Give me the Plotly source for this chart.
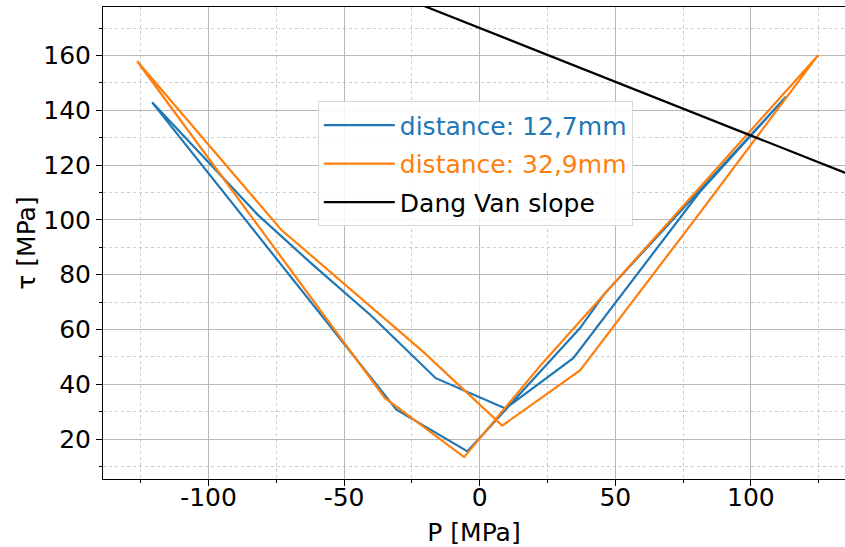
import plotly.graph_objects as go

# Data
blue_P = [-120.8, -100.0, -82.0, -62.0, -40.0, -16.2, 9.5, 34.5, 81.0, 112.9,
          46.0, 37.0, -4.5, -30.7, -120.8]
blue_tau = [142.9, 121.0, 102.0, 84.0, 65.0, 42.2, 31.1, 49.5, 110.0, 144.9,
            73.0, 60.5, 15.5, 30.7, 142.9]

orange_P = [-126.3, -73.1, -21.0, 8.3, 37.0, 80.0, 124.8,
            50.0, 23.0, -5.75, -35.0, -126.3]
orange_tau = [157.9, 96.3, 52.0, 24.9, 45.0, 101.0, 160.1,
              77.5, 47.5, 13.4, 35.0, 157.9]

dv_P = [-30.0, 140.0]
dv_tau = [181.8, 115.1]

x_tickvals = [-100, -50, 0, 50, 100]
x_ticktext = ["-100", "-50", "0", "50", "100"]
y_tickvals = [20, 40, 60, 80, 100, 120, 140, 160]
y_ticktext = ["20", "40", "60", "80", "100", "120", "140", "160"]

BLUE = "#1f77b4"
ORANGE = "#ff7f0e"

fig = go.Figure()
fig.add_trace(go.Scatter(x=blue_P, y=blue_tau, mode="lines",
                         line=dict(color=BLUE, width=2.2), legendgroup="a",
                         name=f"<span style='color:{BLUE}'>distance: 12,7mm</span>"))
fig.add_trace(go.Scatter(x=orange_P, y=orange_tau, mode="lines",
                         line=dict(color=ORANGE, width=2.2), legendgroup="b",
                         name=f"<span style='color:{ORANGE}'>distance: 32,9mm</span>"))
fig.add_trace(go.Scatter(x=dv_P, y=dv_tau, mode="lines",
                         line=dict(color="black", width=2.2), legendgroup="c",
                         name="Dang Van slope"))

font = "DejaVu Sans, sans-serif"
FS = 25
fig.update_layout(
    width=845, height=547,
    margin=dict(l=103, r=0, t=7, b=68),
    paper_bgcolor="white", plot_bgcolor="white",
    font=dict(family=font, size=FS, color="black"),
    legend=dict(x=0.2895, y=0.80, xanchor="left", yanchor="top",
                bgcolor="rgba(255,255,255,0.85)", bordercolor="#d8d8d8",
                borderwidth=1, font=dict(size=FS, family=font),
                itemwidth=71, tracegroupgap=3),
    showlegend=True,
)
fig.update_xaxes(
    range=[-138.9, 134.7],
    tickmode="array", tickvals=x_tickvals, ticktext=x_ticktext,
    ticks="outside", ticklen=6, tickwidth=1, tickcolor="black",
    ticklabelstandoff=-10,
    showline=True, linecolor="black", linewidth=1, mirror=True,
    showgrid=True, gridcolor="#b8b8b8", gridwidth=1.3,
    zeroline=False,
    minor=dict(tickmode="linear", tick0=0, dtick=25, ticks="outside", ticklen=3,
               tickcolor="black", showgrid=True, gridcolor="#cccccc",
               griddash="dot", gridwidth=1),
    title=dict(text="P [MPa]", font=dict(size=FS, family=font), standoff=12),
    tickfont=dict(size=FS, family=font),
)
fig.update_yaxes(
    range=[5.4, 177.7],
    tickmode="array", tickvals=y_tickvals, ticktext=y_ticktext,
    ticks="outside", ticklen=6, tickwidth=1, tickcolor="black",
    showline=True, linecolor="black", linewidth=1, mirror=False,
    showgrid=True, gridcolor="#b8b8b8", gridwidth=1.3,
    zeroline=False,
    minor=dict(tickmode="linear", tick0=0, dtick=10, ticks="outside", ticklen=3,
               tickcolor="black", showgrid=True, gridcolor="#cccccc",
               griddash="dot", gridwidth=1),
    title=dict(text="τ [MPa]", font=dict(size=FS, family=font), standoff=0),
    tickfont=dict(size=FS, family=font),
)

fig.write_html(
    "out.html",
    config={"displayModeBar": False},
    post_script="document.body.style.margin='0';document.body.style.overflow='hidden';",
)
